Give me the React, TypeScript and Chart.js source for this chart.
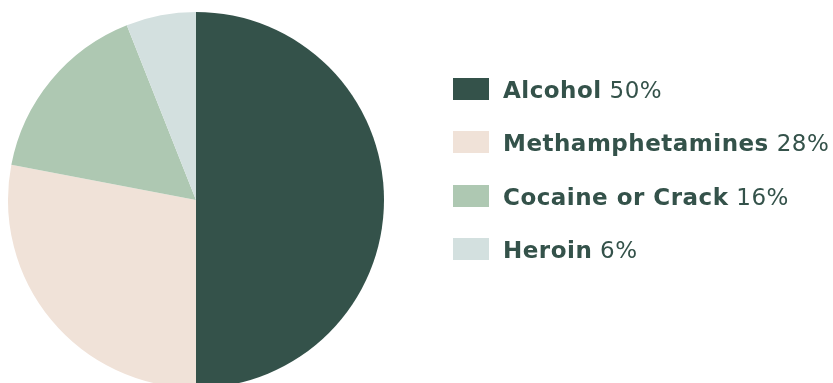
import React, { useEffect, useRef } from "react";
import { Chart, registerables } from "chart.js";

Chart.register(...registerables);

const categories = ["Alcohol", "Methamphetamines", "Cocaine or Crack", "Heroin"];
const values = [50, 28, 16, 6];
const valueLabels = ["50%", "28%", "16%", "6%"];
const colors = ["#34524a", "#f0e2d8", "#aec8b2", "#d3e0df"];

const TEXT = "#34524a";

export default function App() {
  const ref = useRef<HTMLCanvasElement | null>(null);

  useEffect(() => {
    document.body.style.margin = "0";
    document.body.style.overflow = "hidden";
    const ctx = ref.current;
    if (!ctx) return;
    const chart = new Chart(ctx, {
      type: "pie",
      data: {
        labels: categories,
        datasets: [
          {
            data: values,
            backgroundColor: colors,
            borderWidth: 0,
          },
        ],
      },
      options: {
        responsive: false,
        animation: false,
        layout: { padding: { left: 8, top: 12, right: 449, bottom: 12 } },
        plugins: {
          legend: { display: false },
          tooltip: { enabled: false },
        },
      },
    });
    return () => chart.destroy();
  }, []);

  return (
    <div
      style={{
        position: "absolute",
        left: 0,
        top: 0,
        width: 833,
        height: 383,
        overflow: "hidden",
        background: "#ffffff",
      }}
    >
      <canvas ref={ref} width={833} height={400} style={{ position: "absolute", left: 0, top: 0, width: 833, height: 400 }} />
      {categories.map((c, i) => (
        <div
          key={c}
          style={{
            position: "absolute",
            left: 453,
            top: 78 + i * 53.3,
            height: 22,
            display: "flex",
            alignItems: "center",
            whiteSpace: "nowrap",
          }}
        >
          <div style={{ width: 36, height: 22, background: colors[i], flex: "none" }} />
          <div
            style={{
              marginLeft: 14,
              fontFamily: "'DejaVu Sans', sans-serif",
              fontSize: 23,
              letterSpacing: "0.5px",
              lineHeight: "22px",
              color: TEXT,
              position: "relative",
              top: 1,
            }}
          >
            <span style={{ fontWeight: 700 }}>{c}</span> <span style={{ fontWeight: 400 }}>{valueLabels[i]}</span>
          </div>
        </div>
      ))}
    </div>
  );
}
